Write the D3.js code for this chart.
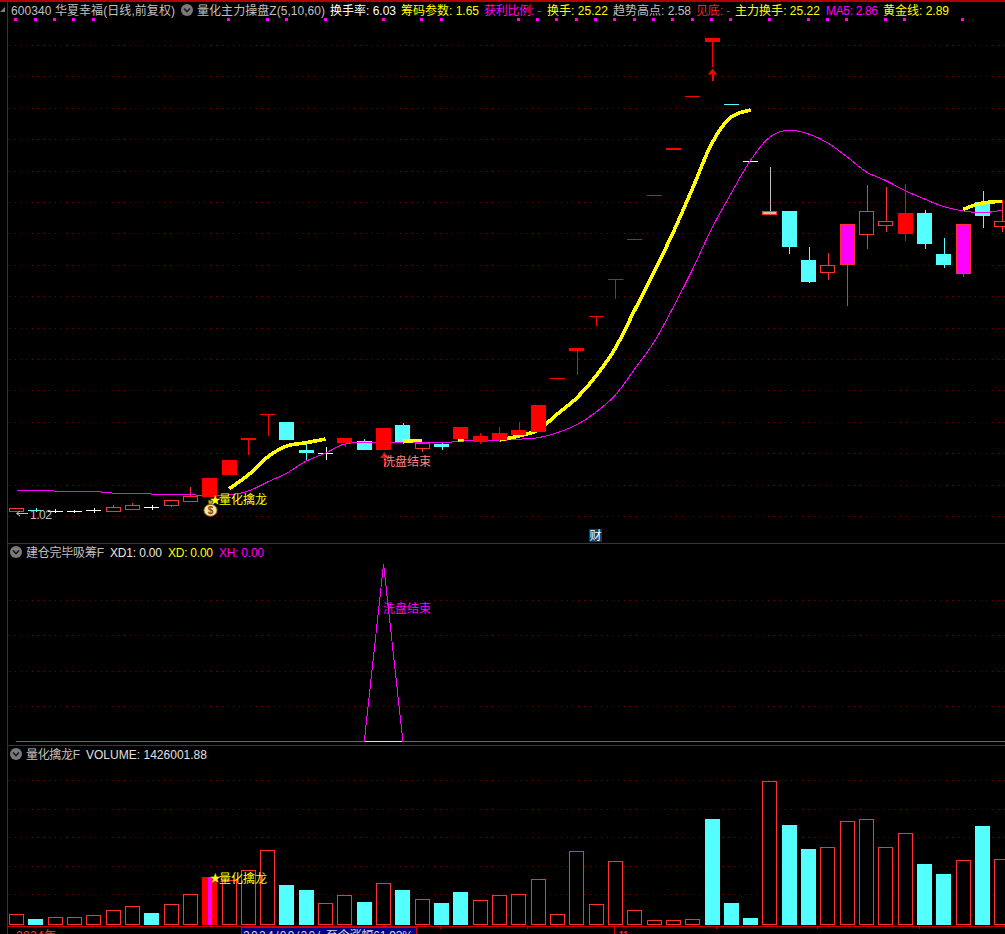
<!DOCTYPE html>
<html lang="zh">
<head>
<meta charset="utf-8">
<title>600340 华夏幸福</title>
<script src="https://cdn.jsdelivr.net/npm/d3@7"></script>
<style>
html,body{margin:0;padding:0;background:#000;overflow:hidden}
svg{display:block}
text{font-family:"Liberation Sans","Noto Sans CJK SC",sans-serif;font-size:12px}
</style>
</head>
<body>
<svg id="chart" width="1005" height="934"></svg>
<script>
// ---------- data ----------
const opens  = [1.034,1.038,1.034,1.030,1.036,1.032,1.046,1.055,1.066,1.096,1.119,1.261,1.484,1.648,1.599,1.420,1.401,1.467,1.478,1.420,1.580,1.435,1.459,1.490,1.471,1.484,1.516,1.535,1.877,2.053,2.276,2.508,2.764,3.044,3.333,3.673,4.021,3.622,3.259,2.925,2.943,2.630,2.550,2.605,2.798,2.855,2.798,2.930,2.669,2.548,3.000,2.847];
const closes = [1.051,1.038,1.034,1.030,1.036,1.057,1.070,1.055,1.100,1.125,1.242,1.357,1.497,1.648,1.486,1.403,1.401,1.497,1.420,1.560,1.469,1.467,1.439,1.567,1.510,1.529,1.548,1.707,1.877,2.070,2.276,2.508,2.764,3.044,3.344,3.673,4.044,3.622,3.259,2.943,2.713,2.490,2.597,2.860,2.943,2.879,2.930,2.732,2.599,2.860,2.911,2.879];
const highs  = [1.051,1.051,1.046,1.038,1.051,1.070,1.083,1.072,1.100,1.185,1.242,1.357,1.497,1.648,1.599,1.465,1.439,1.497,1.490,1.560,1.592,1.467,1.471,1.567,1.529,1.567,1.599,1.707,1.877,2.070,2.276,2.508,2.764,3.044,3.344,3.673,4.044,3.622,3.259,3.221,2.943,2.713,2.675,2.860,3.108,3.095,3.115,2.949,2.771,2.860,3.070,3.013];
const lows   = [1.034,1.025,1.021,1.021,1.021,1.032,1.040,1.038,1.057,1.089,1.119,1.261,1.389,1.511,1.486,1.357,1.357,1.441,1.420,1.420,1.460,1.408,1.420,1.490,1.459,1.471,1.516,1.535,1.877,1.898,2.212,2.384,2.764,3.044,3.333,3.673,3.862,3.622,3.259,2.925,2.669,2.484,2.503,2.337,2.701,2.809,2.751,2.701,2.580,2.522,2.834,2.809];
const candleKinds = ["hollow","cyan","white","white","white","hollow","hollow","white","hollow","hollow","solid","solid","solid","solid","cyan","cyan","white","solid","cyan","solid","cyan","hollow","cyan","solid","solid","solid","solid","solid","solid","solid","solid","solid","solid","solid","solid","solid","solid","cyan","white","gray","cyan","cyan","hollow","magenta","hollow","hollow","solid","cyan","cyan","magenta","cyan","hollow"];
const maLine = [1.164,1.164,1.159,1.157,1.156,1.146,1.145,1.140,1.137,1.136,1.127,1.134,1.159,1.217,1.274,1.350,1.401,1.459,1.471,1.469,1.469,1.468,1.465,1.478,1.481,1.482,1.489,1.499,1.531,1.581,1.662,1.771,1.936,2.108,2.331,2.573,2.834,3.057,3.267,3.414,3.458,3.433,3.376,3.286,3.191,3.136,3.072,3.019,2.970,2.943,2.932,2.949];
const goldLine = [null,null,null,null,null,null,null,null,null,null,null,1.174,1.261,1.376,1.446,1.467,1.490,null,null,null,1.478,1.481,null,1.486,null,1.484,1.510,1.548,1.650,1.752,1.892,2.070,2.312,2.554,2.809,3.089,3.376,3.541,3.586,null,null,null,null,null,null,null,null,null,null,2.953,2.993,3.004];
const signalDays = [0,1,2,3,4,11,13,14,16,19,21,22,26,27,28,29,30,31,32,33,34,35,36,37,39,41,42,43,45,46,49];
const priceTicks = [1.0,1.2,1.4,1.6,1.8,2.0,2.2,2.4,2.6,2.8,3.0,3.2,3.4,3.6,3.8,4.0];

const xhValues = [18,19,20].map((d,i)=>({day:d,value:[0,100,0][i]}));
const xhTicks = [20,40,60,80];

const volumes = [21.3,11,14.7,14.7,19.1,30.1,38.8,24.1,43.2,65.2,103.1,95.9,117.8,161.7,85.6,74.6,45.4,63,48.3,89.3,74.6,54.2,46.1,70.2,52,63,65.2,98.1,21.3,159.5,43.2,137.6,30.1,8.1,8.1,10.3,230.4,46.1,13.2,313.1,217.2,164.6,168.3,225.3,229.7,168.3,199,131.6,109.7,139.8,215,142.6];
const volumeKinds = ["hollow","cyan","hollow","hollow","hollow","hollow","hollow","cyan","hollow","hollow","solid","hollow","hollow","hollow","cyan","cyan","hollow","hollow","cyan","hollow","cyan","hollow","cyan","cyan","hollow","hollow","hollow","hollow","hollow","hollow","hollow","hollow","hollow","hollow","hollow","hollow","cyan","cyan","cyan","hollow","cyan","cyan","hollow","hollow","hollow","hollow","hollow","cyan","cyan","hollow","cyan","hollow"];
const volumeTicks = [65,127,190,252,315];

const mainTitles = ["600340 华夏幸福(日线,前复权)","量化主力操盘Z(5,10,60)","换手率: 6.03","筹码参数: 1.65","获利比例: -","换手: 25.22","趋势高点: 2.58","见底: -","主力换手: 25.22","MA5: 2.86","黄金线: 2.89"];
const xdTitles = ["建仓完毕吸筹F","XD1: 0.00","XD: 0.00","XH: 0.00"];
const volumeTitles = ["量化擒龙F","VOLUME: 1426001.88"];

// ---------- layout ----------
const C = {red:"#ff0000",line:"#ff3232",cyan:"#54ffff",yellow:"#ffff00",magenta:"#ff00ff",gray:"#c0c0c0",frame:"#b00000",grid:"#800000"};
const days = d3.range(opens.length);
const svg = d3.select("#chart");
const x = d3.scaleBand().domain(days).range([6.84,1011.48]).paddingInner(0.2236).paddingOuter(0.1118);
const cx = i => x(i)+x.bandwidth()/2;
const left = i => Math.round(x(i));
const y = d3.scaleLinear().domain([1,4]).range([516,45]);
const yXh = d3.scaleLinear().domain([0,100]).range([741.5,564]);
const yVol = d3.scaleLinear().domain([0,316]).range([924,780]);

svg.append("rect").attr("width",1005).attr("height",934).attr("fill","#000");

// grids
function grid(scale,ticks){
  svg.append("g").selectAll("line").data(ticks).join("line")
    .attr("x1",9).attr("x2",1005)
    .attr("y1",d=>Math.round(scale(d))+.5).attr("y2",d=>Math.round(scale(d))+.5)
    .attr("stroke",C.grid).attr("stroke-dasharray","1 4.75");
}
grid(y,priceTicks); grid(yXh,xhTicks); grid(yVol,volumeTicks);

// frame
const frame = svg.append("g").attr("stroke",C.frame).attr("shape-rendering","crispEdges");
frame.append("line").attr("x1",0).attr("x2",1005).attr("y1",.5).attr("y2",.5).attr("stroke-width",2);
frame.append("line").attr("x1",7.5).attr("x2",7.5).attr("y1",0).attr("y2",934);
[543.5,745.5].forEach(v=>frame.append("line").attr("x1",7).attr("x2",1005).attr("y1",v).attr("y2",v));
frame.append("line").attr("x1",7).attr("x2",1005).attr("y1",926.5).attr("y2",926.5).attr("stroke","#d00000");

svg.append("path").attr("d","M0,12 L5,7 L5,12 Z").attr("fill","#808080");

// candles
const colorOf = k => ({hollow:C.line,cyan:C.cyan,white:"#ffffff",solid:C.red,gray:C.gray,magenta:C.magenta})[k];
const outlined = k => k==="hollow"||k==="gray"||k==="magenta";
function drawCandles(g,list){
  const n = g.selectAll("g").data(list).join("g").attr("shape-rendering","crispEdges");
  n.append("line")
    .attr("x1",i=>Math.round(cx(i))+.5).attr("x2",i=>Math.round(cx(i))+.5)
    .attr("y1",i=>y(highs[i])).attr("y2",i=>y(lows[i]))
    .attr("stroke",i=>colorOf(candleKinds[i]));
  n.append("rect")
    .attr("x",i=>left(i)+(outlined(candleKinds[i])?.5:0))
    .attr("width",i=>x.bandwidth()-(outlined(candleKinds[i])?1:0))
    .attr("y",i=>Math.round(y(Math.max(opens[i],closes[i]))))
    .attr("height",i=>Math.max(1,Math.round(Math.abs(y(opens[i])-y(closes[i])))))
    .attr("fill",i=>{const k=candleKinds[i];return k==="hollow"?"#000":colorOf(k);})
    .attr("stroke",i=>outlined(candleKinds[i])?C.line:"none");
}
drawCandles(svg.append("g"),days.filter(i=>candleKinds[i]!=="solid"));

// lines
const maGen = d3.line().curve(d3.curveMonotoneX).x((d,i)=>cx(i)).y(d=>y(d));
svg.append("path").attr("d",maGen(maLine)).attr("fill","none").attr("stroke",C.magenta).attr("stroke-width",1).attr("shape-rendering","crispEdges");
const goldGen = d3.line().curve(d3.curveMonotoneX).defined(d=>d!==null).x((d,i)=>cx(i)).y(d=>y(d));
svg.append("path").attr("d",goldGen(goldLine)).attr("fill","none").attr("stroke",C.yellow)
  .attr("stroke-width",3.6).attr("stroke-linecap","butt").attr("stroke-linejoin","round").attr("shape-rendering","crispEdges");
// lone point of the gold line
days.filter(i=>goldLine[i]!==null&&goldLine[i-1]==null&&goldLine[i+1]==null).forEach(i=>{
  svg.append("rect").attr("x",cx(i)-3).attr("width",6).attr("y",y(goldLine[i])-2).attr("height",4).attr("fill",C.yellow);
});

drawCandles(svg.append("g"),days.filter(i=>candleKinds[i]==="solid"));

// signal squares
svg.append("g").selectAll("rect").data(signalDays).join("rect")
  .attr("x",i=>Math.round(cx(i))-2).attr("y",18).attr("width",3).attr("height",3).attr("fill",C.magenta);

// text helper
function label(t,xp,yp,w,color){
  const s = svg.append("text").attr("x",xp).attr("y",yp).attr("fill",color).text(t);
  if(w) s.attr("textLength",w).attr("lengthAdjust","spacing");
  return s;
}
function chevron(cxp,cyp){
  svg.append("circle").attr("cx",cxp).attr("cy",cyp).attr("r",6).attr("fill","#7a7a7a");
  svg.append("path").attr("d",`M${cxp-3},${cyp-1.5} L${cxp},${cyp+1.5} L${cxp+3},${cyp-1.5}`)
    .attr("fill","none").attr("stroke","#1a1a1a").attr("stroke-width",1.6);
}

// headers
const mh = [[11,164,C.gray],[197,128,C.gray],[330,66,"#ffffff"],[401,78,C.yellow],[484,57,C.magenta],[547,61,C.yellow],[613,78,C.gray],[696,34,"#ff2020"],[735,85,C.yellow],[826,52,C.magenta],[883,66,C.yellow]];
mainTitles.forEach((t,i)=>label(t,mh[i][0],14.5,mh[i][1],mh[i][2]));
chevron(187,10);
chevron(16,552);
const xh = [[26,78,C.gray],[110,52,"#e8e8e8"],[168,45,C.yellow],[219,45,C.magenta]];
xdTitles.forEach((t,i)=>label(t,xh[i][0],556.5,xh[i][1],xh[i][2]));
chevron(16,754);
const vh = [[26,54,C.gray],[86,121,"#e0e0e0"]];
volumeTitles.forEach((t,i)=>label(t,vh[i][0],758.5,vh[i][1],vh[i][2]));

// arrows
function upArrow(i,tipY,shaft,color){
  const c = Math.round(cx(i))+.5;
  svg.append("path").attr("d",`M${c},${tipY} L${c+4.5},${tipY+6} L${c-4.5},${tipY+6} Z`).attr("fill",color);
  svg.append("line").attr("x1",c).attr("x2",c).attr("y1",tipY+5).attr("y2",tipY+shaft).attr("stroke",color).attr("stroke-width",2).attr("shape-rendering","crispEdges");
}
upArrow(36,y(3.85),12,C.red);
upArrow(19,y(lows[19])+2,15,"#e01010");

// annotations
label("洗盘结束",cx(19)-.5,y(lows[19])+16,48,"#ff8080");

// money bag
const bx = Math.round(cx(10))+.5, by = y(lows[10])+13;
svg.append("path").attr("d",`M${bx-2.5},${by-10} L${bx+2.5},${by-10} L${bx+1.5},${by-6} L${bx-1.5},${by-6} Z`).attr("fill","#c8a040").attr("stroke","#6a4a10").attr("stroke-width",.8);
svg.append("ellipse").attr("cx",bx).attr("cy",by).attr("rx",6.6).attr("ry",6).attr("fill","#f8e6a0").attr("stroke","#7a5a18").attr("stroke-width",1);
svg.append("text").attr("x",bx).attr("y",by+3.5).attr("text-anchor","middle").attr("fill","#7a4a10").style("font-size","10px").style("font-weight","bold").text("$");

label("★",cx(10),503.5,0,C.yellow).style("font-size","11px");
label("量化擒龙",219,504,48,C.yellow);

// low price marker
const lowY = Math.round(y(lows[2]))+.5;
svg.append("path").attr("d",`M28,${lowY} H17 M20,${lowY-2.5} L16.5,${lowY} L20,${lowY+2.5}`).attr("fill","none").attr("stroke",C.gray);
label("1.02",30,519,22,C.gray);

// 财 marker
svg.append("rect").attr("x",589).attr("y",529).attr("width",13).attr("height",13).attr("fill","#0c3c6c");
label("财",589.5,540,0,"#ffffff");

// XH panel
const xhLine = d3.line().x(d=>cx(d.day)).y(d=>yXh(d.value));
svg.append("line").attr("x1",16).attr("x2",1005).attr("y1",741.5).attr("y2",741.5).attr("stroke",C.magenta).attr("shape-rendering","crispEdges");
svg.append("line").attr("x1",cx(18)).attr("x2",cx(20)).attr("y1",741.5).attr("y2",741.5).attr("stroke",C.yellow).attr("shape-rendering","crispEdges");
svg.append("path").attr("d",xhLine(xhValues)).attr("fill","none").attr("stroke",C.magenta).attr("stroke-width",1).attr("shape-rendering","crispEdges");
label("洗盘结束",cx(19)-.5,613,48,C.magenta);

// volume panel
const vg = svg.append("g").attr("shape-rendering","crispEdges");
vg.selectAll("rect").data(days).join("rect")
  .attr("x",i=>left(i)+(volumeKinds[i]==="hollow"?.5:0))
  .attr("width",i=>x.bandwidth()-(volumeKinds[i]==="hollow"?1:0))
  .attr("y",i=>Math.round(yVol(volumes[i]))+(volumeKinds[i]==="hollow"?.5:0))
  .attr("height",i=>924.5-Math.round(yVol(volumes[i]))-(volumeKinds[i]==="hollow"?1:0))
  .attr("fill",i=>({hollow:"#000",cyan:C.cyan,solid:C.red})[volumeKinds[i]])
  .attr("stroke",i=>volumeKinds[i]==="hollow"?C.line:"none");
days.filter(i=>volumeKinds[i]==="solid").forEach(i=>{
  vg.append("rect").attr("x",left(i)+6).attr("width",3.5).attr("y",Math.round(yVol(volumes[i])))
    .attr("height",924.5-Math.round(yVol(volumes[i]))).attr("fill",C.magenta);
});
label("★",cx(10),882,0,C.yellow).style("font-size","11px");
label("量化擒龙",219,882.5,48,C.yellow);

// time axis
const axisTicks = [440.5,527.5,716.5,817.5,919.5];
svg.append("g").selectAll("line").data(axisTicks).join("line")
  .attr("x1",d=>d).attr("x2",d=>d).attr("y1",927).attr("y2",929).attr("stroke","#d00000").attr("shape-rendering","crispEdges");
svg.append("rect").attr("x",241.5).attr("y",927.5).attr("width",175).attr("height",10).attr("fill","#000080").attr("stroke","#d00000").attr("shape-rendering","crispEdges");
label("2024/09/20/",243,940,77,"#d8d8d8");
label("至今涨幅61.93%",326,940,87,"#d8d8d8");
label("2024年",16,940,40,"#ff3232");
svg.append("line").attr("x1",614.5).attr("x2",614.5).attr("y1",927).attr("y2",934).attr("stroke","#d00000").attr("shape-rendering","crispEdges");
label("11",618,940,11,"#ff3232");
</script>
</body>
</html>
